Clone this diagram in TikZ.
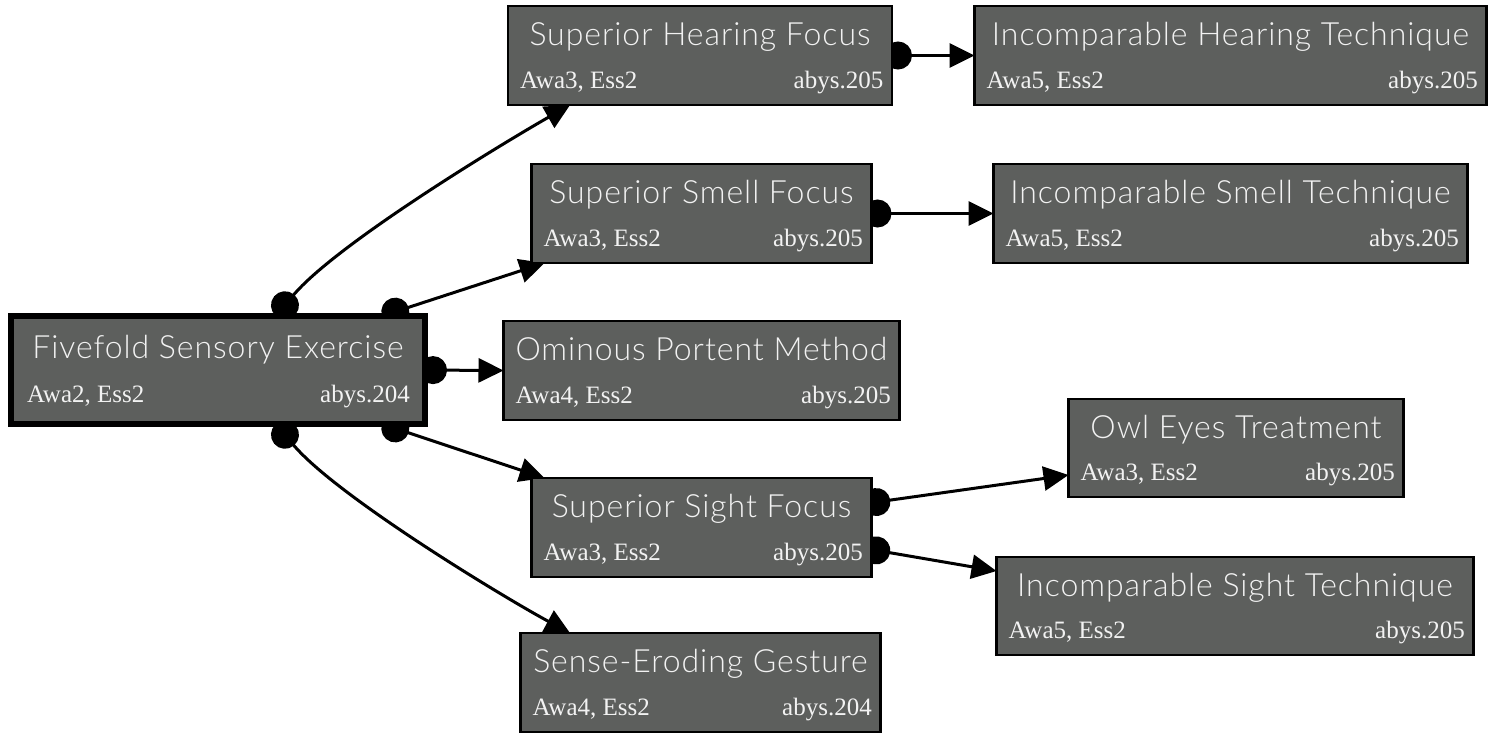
\documentclass[tikz,border=0pt]{standalone}
\usepackage{fontspec}
\usetikzlibrary{arrows.meta,backgrounds}
\newfontfamily\cardtitlefont[LetterSpace=3]{Lato Light}
\newfontfamily\cardsubfont{Liberation Serif}
\definecolor{cardfill}{RGB}{93,95,93}
\definecolor{cardtext}{RGB}{242,242,242}
\tikzset{
  card/.style={draw=black, fill=cardfill, line width=2.5pt, inner sep=0pt, outer sep=0pt},
  rootcard/.style={card, line width=6pt},
  cardtitle/.style={text=cardtext, font=\cardtitlefont\fontsize{32}{36}\selectfont, anchor=base, inner sep=0pt},
  cardsub/.style={text=cardtext, font=\cardsubfont\fontsize{25}{29}\selectfont, inner sep=0pt},
  link/.style={line width=3pt, {Circle[length=28pt,width=28pt]}-{Triangle[length=25pt,width=24pt]}},
}
% \drawcard[style]{name}{x}{y}{width}{height}{title}{left}{right}
\newcommand\drawcard[9][card]{%
  \node[#1, minimum width=#5pt, minimum height=#6pt] (#2) at (#3,#4) {};
  \node[cardtitle] (#2-t) at ([yshift=-39pt]#2.north) {#7};
  \node[cardsub, anchor=base west] (#2-l) at ([xshift=12pt,yshift=16.5pt]#2.south west) {#8};
  \node[cardsub, anchor=base east] (#2-r) at ([xshift=-8.5pt,yshift=16.5pt]#2.south east) {#9};
}
\begin{document}
\begin{tikzpicture}[x=1pt,y=-1pt]
\useasboundingbox (0,0) rectangle (1495,732);

% root exercise
\node[rootcard, minimum width=414pt, minimum height=108pt] (five) at (218,370) {};
\node[cardtitle] (five-t) at ([yshift=-42pt]five.north) {Fivefold Sensory Exercise};
\node[cardsub, anchor=base west] (five-l) at ([xshift=16pt,yshift=22pt]five.south west) {Awa2, Ess2};
\node[cardsub, anchor=base east] (five-r) at ([xshift=-15pt,yshift=22pt]five.south east) {abys.204};

% follow-up exercises
\drawcard{hear}{700}{55.5}{384}{99}{Superior Hearing Focus}{Awa3, Ess2}{abys.205}
\drawcard{ihear}{1230.5}{55.5}{512}{99}{Incomparable Hearing Technique}{Awa5, Ess2}{abys.205}
\drawcard{smell}{701.5}{213.5}{340}{99}{Superior Smell Focus}{Awa3, Ess2}{abys.205}
\drawcard{ismell}{1230.5}{213.5}{474}{99}{Incomparable Smell Technique}{Awa5, Ess2}{abys.205}
\drawcard{omin}{701.5}{370.5}{396}{99}{Ominous Portent Method}{Awa4, Ess2}{abys.205}
\drawcard{owl}{1236}{448}{335}{98}{Owl Eyes Treatment}{Awa3, Ess2}{abys.205}
\drawcard{sight}{701.5}{527.5}{340}{99}{Superior Sight Focus}{Awa3, Ess2}{abys.205}
\drawcard{isight}{1235}{606}{477}{98}{Incomparable Sight Technique}{Awa5, Ess2}{abys.205}
\drawcard{sense}{700.5}{682.5}{360}{99}{Sense-Eroding Gesture}{Awa4, Ess2}{abys.204}

% prerequisite links, tucked behind the cards
\begin{pgfonlayer}{background}
\draw[link] ([xshift=58pt]five.north) .. controls (336,244) and (505,142) .. ([xshift=-130pt]hear.south);
\draw[link] ([xshift=164pt]five.north) -- ([xshift=13pt]smell.south west);
\draw[link] ([xshift=-6pt]five.east) -- (omin.west);
\draw[link] ([xshift=164pt]five.south) -- ([xshift=13pt]sight.north west);
\draw[link] ([xshift=58pt]five.south) .. controls (336,496) and (505,598) .. ([xshift=-130.5pt]sense.north);
\draw[link] ([xshift=-8pt]hear.east) -- (ihear.west);
\draw[link] ([xshift=-8pt]smell.east) -- (ismell.west);
\draw[link] ([xshift=-9pt,yshift=23.5pt]sight.east) -- ([yshift=-27pt]owl.west);
\draw[link] ([xshift=-9pt,yshift=-20.5pt]sight.east) -- ([yshift=35pt]isight.west);
\end{pgfonlayer}
\end{tikzpicture}
\end{document}
